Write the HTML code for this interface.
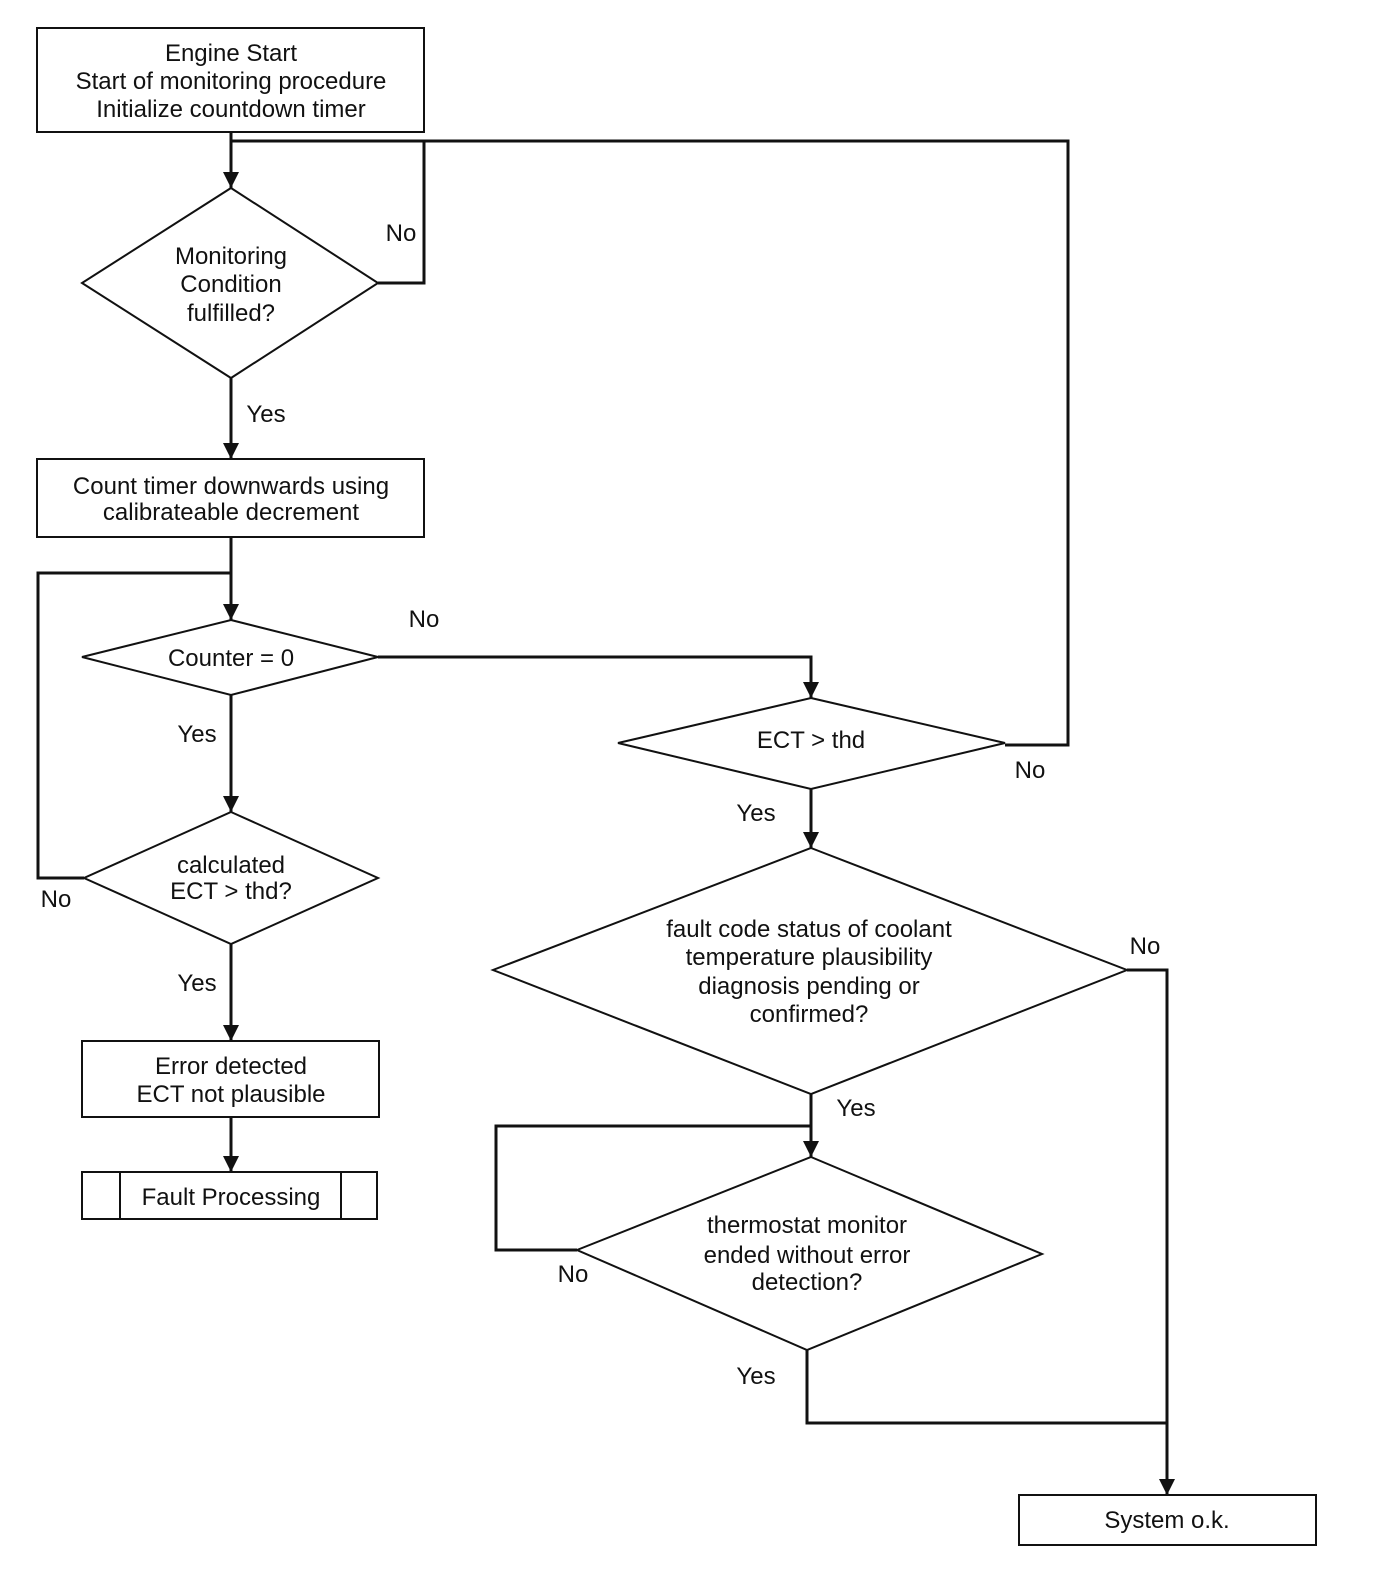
<!DOCTYPE html>
<html><head><meta charset="utf-8"><style>
html,body{margin:0;padding:0;background:#fff;}
svg{display:block;}
text{font-family:"Liberation Sans",sans-serif;font-size:24px;fill:#111;text-anchor:middle;}
.s{fill:none;stroke:#111;stroke-width:2;}
.l{fill:none;stroke:#111;stroke-width:3;}
</style></head><body>
<svg width="1376" height="1586" viewBox="0 0 1376 1586">
<defs>
<marker id="d" markerWidth="18" markerHeight="18" refX="9" refY="17" orient="0" markerUnits="userSpaceOnUse" viewBox="0 0 18 18"><path d="M1,1 L17,1 L9,17 z" fill="#111"/></marker></defs>

<rect x="37" y="28" width="387" height="104" class="s"/>
<text x="231" y="61">Engine Start</text>
<text x="231" y="89">Start of monitoring procedure</text>
<text x="231" y="117">Initialize countdown timer</text>

<polyline points="231,132 231,188" class="l" marker-end="url(#d)"/>
<polyline points="378,283 424,283 424,141 231,141" class="l"/>
<polyline points="1005,745 1068,745 1068,141 424,141" class="l"/>

<polygon points="231,188 378,283 231,378 82,283" class="s"/>
<text x="231" y="264">Monitoring</text>
<text x="231" y="292">Condition</text>
<text x="231" y="321">fulfilled?</text>
<text x="401" y="241">No</text>
<text x="266" y="422">Yes</text>

<polyline points="231,378 231,459" class="l" marker-end="url(#d)"/>
<rect x="37" y="459" width="387" height="78" class="s"/>
<text x="231" y="494">Count timer downwards using</text>
<text x="231" y="520">calibrateable decrement</text>

<polyline points="231,537 231,620" class="l" marker-end="url(#d)"/>
<polyline points="84,878 38,878 38,573 231,573" class="l"/>

<polygon points="231,620 378,657 231,695 82,657" class="s"/>
<text x="231" y="666">Counter = 0</text>
<text x="424" y="627">No</text>
<polyline points="378,657 811,657 811,698" class="l" marker-end="url(#d)"/>
<text x="197" y="742">Yes</text>
<polyline points="231,695 231,812" class="l" marker-end="url(#d)"/>

<polygon points="231,812 378,878 231,944 84,878" class="s"/>
<text x="231" y="873">calculated</text>
<text x="231" y="899">ECT &gt; thd?</text>
<text x="56" y="907">No</text>
<text x="197" y="991">Yes</text>
<polyline points="231,944 231,1041" class="l" marker-end="url(#d)"/>

<rect x="82" y="1041" width="297" height="76" class="s"/>
<text x="231" y="1074">Error detected</text>
<text x="231" y="1102">ECT not plausible</text>
<polyline points="231,1117 231,1172" class="l" marker-end="url(#d)"/>

<rect x="82" y="1172" width="295" height="47" class="s"/>
<line x1="120" y1="1172" x2="120" y2="1219" class="s"/>
<line x1="341" y1="1172" x2="341" y2="1219" class="s"/>
<text x="231" y="1205">Fault Processing</text>

<polygon points="811,698 1005,743 811,789 618,743" class="s"/>
<text x="811" y="748">ECT &gt; thd</text>
<text x="1030" y="778">No</text>
<text x="756" y="821">Yes</text>
<polyline points="811,789 811,848" class="l" marker-end="url(#d)"/>

<polygon points="811,848 1127,970 811,1094 493,970" class="s"/>
<text x="809" y="937">fault code status of coolant</text>
<text x="809" y="965">temperature plausibility</text>
<text x="809" y="994">diagnosis pending or</text>
<text x="809" y="1022">confirmed?</text>
<text x="1145" y="954">No</text>
<polyline points="1127,970 1167,970 1167,1495" class="l" marker-end="url(#d)"/>
<text x="856" y="1116">Yes</text>
<polyline points="811,1094 811,1157" class="l" marker-end="url(#d)"/>
<polyline points="577,1250 496,1250 496,1126 811,1126" class="l"/>

<polygon points="811,1157 1042,1254 807,1350 577,1250" class="s"/>
<text x="807" y="1233">thermostat monitor</text>
<text x="807" y="1263">ended without error</text>
<text x="807" y="1290">detection?</text>
<text x="573" y="1282">No</text>
<text x="756" y="1384">Yes</text>
<polyline points="807,1350 807,1423 1167,1423" class="l"/>

<rect x="1019" y="1495" width="297" height="50" class="s"/>
<text x="1167" y="1528">System o.k.</text>
</svg>
</body></html>
